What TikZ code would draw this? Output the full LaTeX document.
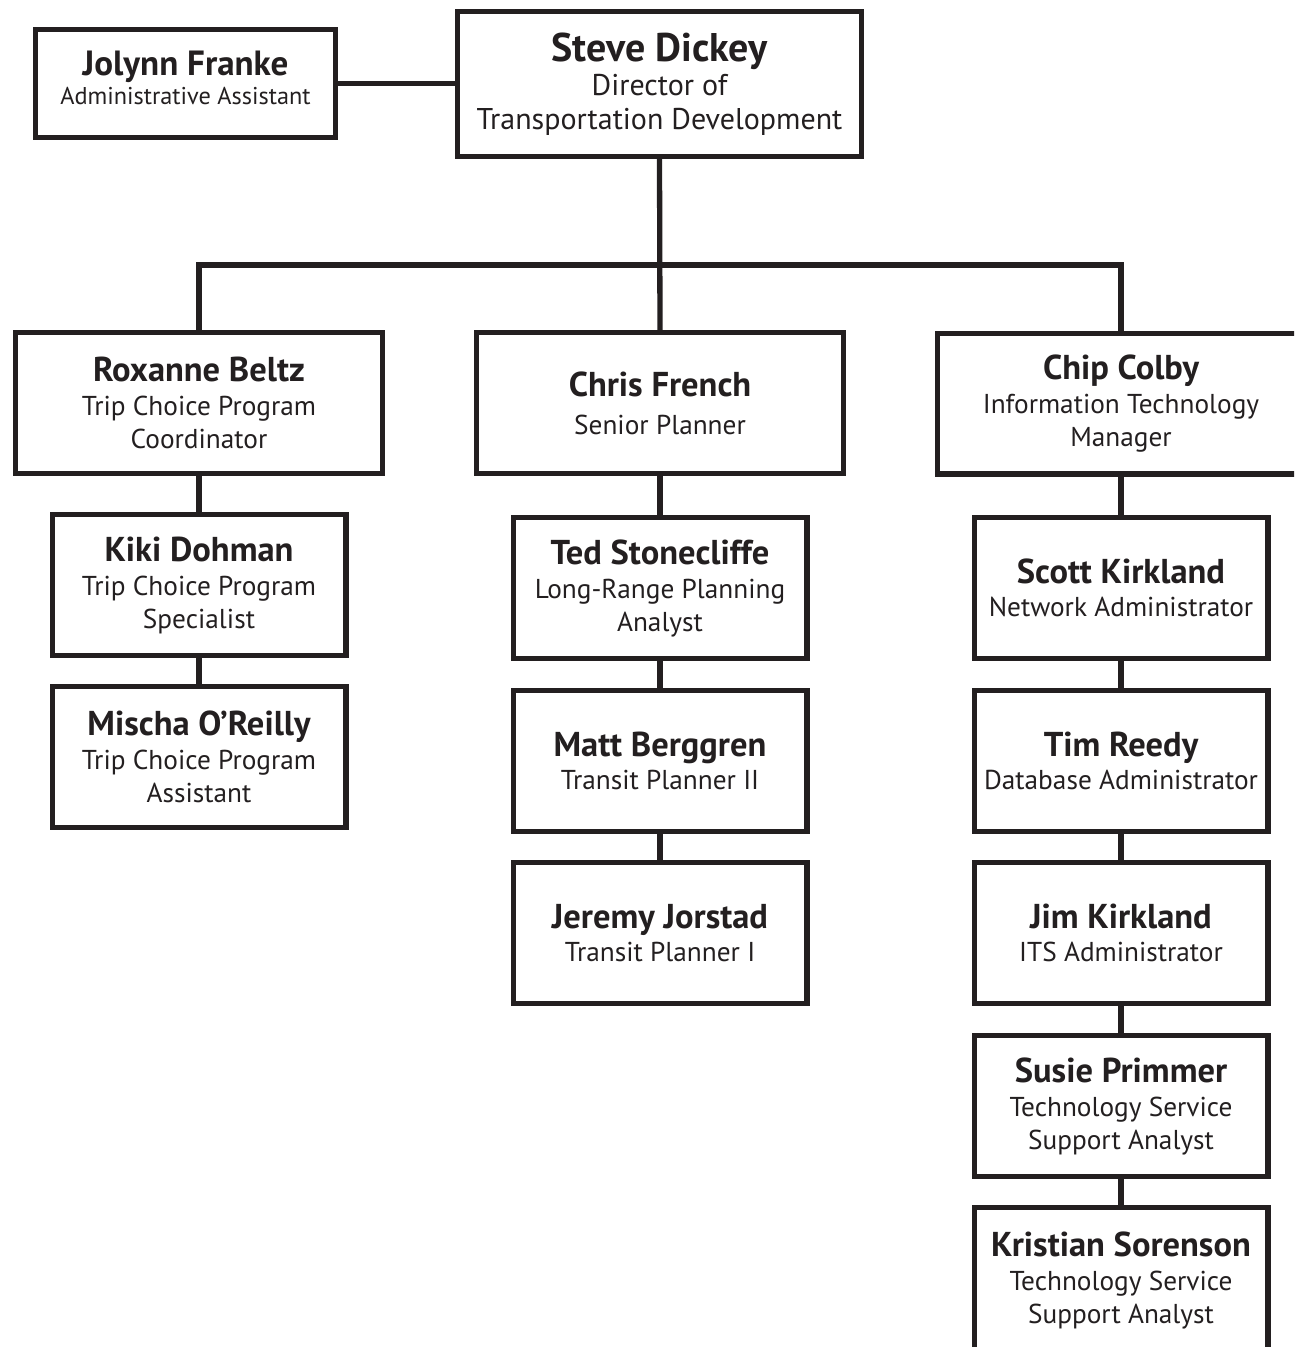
\documentclass[tikz,border=0pt]{standalone}
\usepackage{fontspec}
\setmainfont{PT Sans}
\definecolor{ink}{HTML}{231F20}
\begin{document}
\begin{tikzpicture}[x=1pt,y=-1pt,
  box/.style={draw=ink,line width=5.3pt,fill=white,rectangle,inner sep=0pt,align=center,
    text=ink,minimum width=293.7pt,minimum height=140.7pt,font=\fontsize{27.3}{33}\selectfont},
  wide/.style={minimum width=366.7pt},
  link/.style={draw=ink,line width=5.3pt}]
\useasboundingbox (0,0) rectangle (1294,1347);
\clip (0,0) rectangle (1294,1347);
\newcommand{\nm}[1]{{\fontsize{34.5}{33}\selectfont\bfseries #1}}
% top
\node[box,minimum width=403.7pt,minimum height=144.7pt,font=\fontsize{30}{34}\selectfont] (steve) at (659.5,84)
  {{\fontsize{40}{34}\selectfont\bfseries Steve Dickey}\\Director of\\Transportation Development};
\node[box,minimum width=299.7pt,minimum height=107.7pt,text depth=12pt,font=\fontsize{24.3}{29}\selectfont] (jolynn) at (185.5,83.5)
  {{\fontsize{35}{29}\selectfont\bfseries Jolynn Franke}\\Administrative Assistant};
% level 2
\node[box,wide] (rox) at (199,403) {\nm{Roxanne Beltz}\\[1pt]Trip Choice Program\\Coordinator};
\node[box,wide] (chris) at (660,403) {\nm{Chris French}\\[5pt]Senior Planner};
\node[box,wide] (chip) at (1121,403.5) {\nm{Chip Colby}\\[1pt]Information Technology\\Manager};
% left column
\node[box] (kiki) at (199,585) {\nm{Kiki Dohman}\\[1pt]Trip Choice Program\\Specialist};
\node[box] (mischa) at (199,757) {\nm{Mischa O’Reilly}\\[1pt]Trip Choice Program\\Assistant};
% middle column
\node[box] (ted) at (660,588) {\nm{Ted Stonecliffe}\\[1pt]Long-Range Planning\\Analyst};
\node[box] (matt) at (660,761) {\nm{Matt Berggren}\\Transit Planner II};
\node[box] (jeremy) at (660,933) {\nm{Jeremy Jorstad}\\Transit Planner I};
% right column
\node[box] (scott) at (1121,588) {\nm{Scott Kirkland}\\Network Administrator};
\node[box] (tim) at (1121,761) {\nm{Tim Reedy}\\Database Administrator};
\node[box] (jim) at (1121,933) {\nm{Jim Kirkland}\\ITS Administrator};
\node[box] (susie) at (1121,1106) {\nm{Susie Primmer}\\[1pt]Technology Service\\Support Analyst};
\node[box,minimum height=146pt] (kristian) at (1121,1280.6) {\nm{Kristian Sorenson}\\[1pt]Technology Service\\Support Analyst};
% connectors
\coordinate (bus) at (660,265);
\draw[link] (jolynn.east) -- (jolynn.east -| steve.west);
\draw[link] (steve.south) -- (chris.north);
\draw[link] (rox.north) -- (rox.north |- bus) -- (chip.north |- bus) -- (chip.north);
\draw[link] (rox.south) -- (kiki.north);
\draw[link] (kiki.south) -- (mischa.north);
\draw[link] (chris.south) -- (ted.north);
\draw[link] (ted.south) -- (matt.north);
\draw[link] (matt.south) -- (jeremy.north);
\draw[link] (chip.south) -- (scott.north);
\draw[link] (scott.south) -- (tim.north);
\draw[link] (tim.south) -- (jim.north);
\draw[link] (jim.south) -- (susie.north);
\draw[link] (susie.south) -- (kristian.north);
\end{tikzpicture}
\end{document}
